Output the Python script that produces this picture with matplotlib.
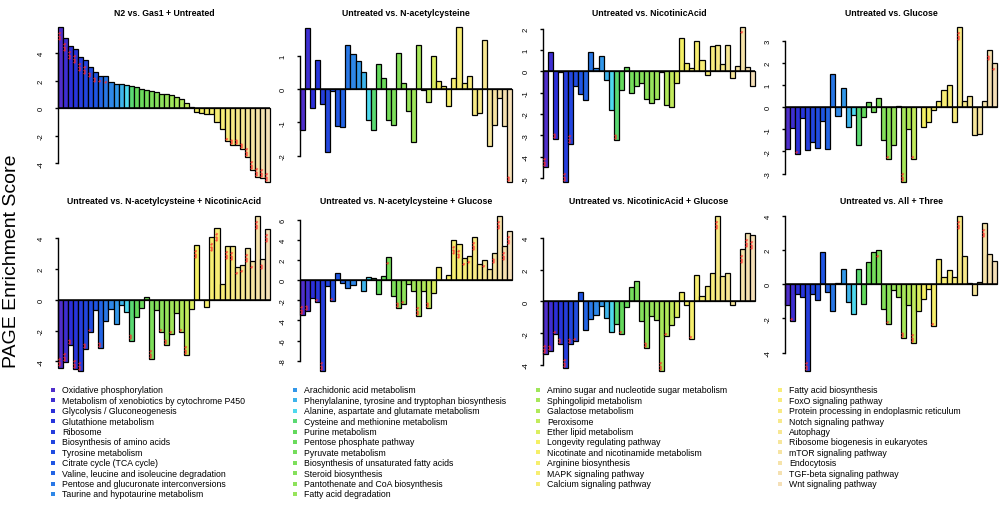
"""PAGE enrichment scores for 42 KEGG pathways across eight comparisons."""

import matplotlib
matplotlib.use("Agg")
import matplotlib.pyplot as plt
import numpy as np
from matplotlib.colors import LinearSegmentedColormap

plt.rcParams["font.family"] = ["Liberation Sans", "DejaVu Sans"]
plt.rcParams["axes.unicode_minus"] = False

# pathway order is the ranking of the first comparison (N2 vs. Gas1)
PATHWAYS = [
    "Oxidative phosphorylation",
    "Metabolism of xenobiotics by cytochrome P450",
    "Glycolysis / Gluconeogenesis",
    "Glutathione metabolism",
    "Ribosome",
    "Biosynthesis of amino acids",
    "Tyrosine metabolism",
    "Citrate cycle (TCA cycle)",
    "Valine, leucine and isoleucine degradation",
    "Pentose and glucuronate interconversions",
    "Taurine and hypotaurine metabolism",
    "Arachidonic acid metabolism",
    "Phenylalanine, tyrosine and tryptophan biosynthesis",
    "Alanine, aspartate and glutamate metabolism",
    "Cysteine and methionine metabolism",
    "Purine metabolism",
    "Pentose phosphate pathway",
    "Pyruvate metabolism",
    "Biosynthesis of unsaturated fatty acids",
    "Steroid biosynthesis",
    "Pantothenate and CoA biosynthesis",
    "Fatty acid degradation",
    "Amino sugar and nucleotide sugar metabolism",
    "Sphingolipid metabolism",
    "Galactose metabolism",
    "Peroxisome",
    "Ether lipid metabolism",
    "Longevity regulating pathway",
    "Nicotinate and nicotinamide metabolism",
    "Arginine biosynthesis",
    "MAPK signaling pathway",
    "Calcium signaling pathway",
    "Fatty acid biosynthesis",
    "FoxO signaling pathway",
    "Protein processing in endoplasmic reticulum",
    "Notch signaling pathway",
    "Autophagy",
    "Ribosome biogenesis in eukaryotes",
    "mTOR signaling pathway",
    "Endocytosis",
    "TGF-beta signaling pathway",
    "Wnt signaling pathway",
]

TITLES = [
    "N2 vs. Gas1 + Untreated",
    "Untreated vs. N-acetylcysteine",
    "Untreated vs. NicotinicAcid",
    "Untreated vs. Glucose",
    "Untreated vs. N-acetylcysteine + NicotinicAcid",
    "Untreated vs. N-acetylcysteine + Glucose",
    "Untreated vs. NicotinicAcid + Glucose",
    "Untreated vs. All + Three",
]

n2_gas1 = [5.93, 5.13, 4.55, 4.27, 3.69, 3.5, 3.0, 2.6, 2.36, 2.31,
           1.9, 1.78, 1.76, 1.71, 1.59, 1.57, 1.4, 1.35, 1.23, 1.16,
           1.04, 1.01, 0.94, 0.84, 0.67, 0.39, 0.05, -0.26, -0.34, -0.39,
           -0.46, -1.0, -1.5, -2.36, -2.7, -2.7, -3.0, -3.57, -4.48, -5.0,
           -5.08, -5.4]
nac = [-1.22, 1.83, -0.57, 0.88, -0.45, -1.9, -0.05, -1.1, -1.13, 1.32,
       1.07, 0.85, 0.52, -0.93, -1.23, 0.77, 0.33, -0.93, -1.07, 1.1,
       0.2, -0.65, -1.6, 1.34, -0.03, -0.38, 1.0, 0.25, 0.1, -0.5,
       0.35, 1.88, 0.2, 0.4, -0.78, -0.73, 1.47, -1.7, -1.08, -0.25,
       -1.1, -2.8]
na = [-4.5, 0.93, -3.15, -0.05, -5.2, -3.4, -0.7, -1.05, -1.35, 0.93,
      0.15, 0.7, -0.4, -1.8, -3.2, -0.85, 0.22, -1.0, -0.7, -0.55,
      -1.3, -1.5, -1.3, -0.05, -1.55, -1.65, -0.55, 1.55, 0.4, 0.15,
      1.42, 0.55, -0.15, 1.18, 1.22, 0.35, 1.22, -0.3, 0.25, 2.1,
      0.2, -0.7]
glc = [-1.9, -0.95, -2.1, -0.5, -1.95, -1.55, -1.85, -0.6, -1.9, 1.5,
       -0.4, 0.85, -0.88, -0.35, -1.7, -0.45, 0.22, -0.2, 0.42, -1.5,
       -2.35, -1.7, 0.06, -3.4, -1.0, -2.35, 0.0, -0.9, -0.65, -0.12,
       0.28, 0.78, 1.02, -0.65, 3.65, 0.3, 0.52, -1.27, -1.2, 0.3,
       2.6, 2.0]
nac_na = [-4.4, -4.05, -2.95, -4.5, -4.65, -3.2, -2.1, -0.65, -3.15, -1.35,
          -0.6, -1.6, -0.35, -0.8, -2.65, -1.15, -0.55, 0.2, -3.85, -0.7,
          -2.1, -2.95, -2.2, -0.85, -2.1, -3.6, -0.6, 3.55, 0.0, -0.45,
          4.05, 4.65, 1.0, 3.5, 3.45, 2.1, 2.25, 3.35, 2.5, 5.45,
          2.65, 4.6]
nac_glc = [-3.5, -3.1, -1.8, -2.15, -9.05, -0.6, -2.1, 0.75, -0.3, -0.8,
           -0.5, 0.0, -1.05, 0.35, 0.2, -1.35, 0.4, 2.25, -1.55, -2.8,
           -2.4, -0.35, -1.1, -3.6, -1.1, -2.8, -1.25, 1.35, 0.0, 0.55,
           3.95, 3.55, 2.15, 2.35, 4.3, 1.55, 2.0, 1.1, 2.7, 6.4,
           3.35, 4.9]
na_glc = [-3.3, -3.1, -2.05, -2.65, -4.2, -2.65, -2.5, 0.6, -1.8, -1.1,
          -0.85, -0.3, -1.05, -1.95, -1.4, -2.05, -0.35, 0.9, 1.3, -1.25,
          -2.95, -0.9, -1.15, -4.4, -2.2, -1.45, -0.95, 0.6, -0.25, -2.35,
          1.65, 0.35, 1.0, 1.8, 5.4, 1.6, 1.8, -0.2, 0.05, 3.3,
          4.3, 4.15]
all_three = [-1.2, -2.15, -0.6, -0.75, -5.1, -0.55, -0.95, 1.9, -0.45, -1.6,
             0.08, 0.88, -1.05, -1.75, 0.88, -1.15, 1.3, 1.9, 1.98, -1.45,
             -2.35, -0.35, -0.75, -3.15, -1.2, -3.45, -1.6, -0.9, -0.3, -2.45,
             1.45, 0.4, 0.8, 0.4, 4.0, 1.65, 0.05, -0.65, 0.15, 3.55,
             1.75, 1.35]

SCORES = [n2_gas1, nac, na, glc, nac_na, nac_glc, na_glc, all_three]

YTICKS = [
    [-4, -2, 0, 2, 4],
    [-2, -1, 0, 1],
    [-5, -4, -3, -2, -1, 0, 1, 2],
    [-3, -2, -1, 0, 1, 2, 3],
    [-4, -2, 0, 2, 4],
    [-8, -6, -4, -2, 0, 2, 4, 6],
    [-4, -2, 0, 2, 4],
    [-4, -2, 0, 2, 4],
]

# z-score cut-offs for *, **, ***
SIG_LEVELS = [1.96, 2.58, 3.29]

ramp = LinearSegmentedColormap.from_list("page", [
    (0.00, "#4f2fcb"), (0.05, "#2a30da"), (0.17, "#1f55e3"),
    (0.27, "#3399e9"), (0.32, "#4fdcee"), (0.345, "#5cd85c"),
    (0.60, "#b5ea5a"), (0.66, "#f5f064"), (0.80, "#f8ec7c"),
    (1.00, "#f5e0b8"),
])
colors = ramp(np.linspace(0, 1, len(PATHWAYS)))

W, H = 1000, 506
fig = plt.figure(figsize=(W / 100, H / 100), dpi=100)

lefts = [58, 300, 543, 785]
tops = [26, 215]
pw, ph = 212, 159

for k, (title, vals, ticks) in enumerate(zip(TITLES, SCORES, YTICKS)):
    r, c = divmod(k, 4)
    ax = fig.add_axes([lefts[c] / W, 1 - (tops[r] + ph) / H, pw / W, ph / H])
    ax.patch.set_visible(False)
    x = np.arange(len(vals)) + 0.5
    ax.bar(x, vals, width=1.0, color=colors, edgecolor="black",
           linewidth=0.9, clip_on=False, zorder=2)
    ax.axhline(0, color="black", lw=1.1, zorder=3)

    lo, hi = min(vals), max(vals)
    pad = 0.01 * (hi - lo)
    ax.set_ylim(lo - pad, hi + pad)
    ax.set_xlim(0, len(vals))

    # significance stars just inside the bar tips
    for xi, v in zip(x, vals):
        n = sum(abs(v) > t for t in SIG_LEVELS)
        if n:
            ax.annotate("*" * n, (xi, v), xytext=(1.2, -1.5 if v > 0 else 1.5),
                        textcoords="offset points", rotation=90, color="#ff2a2a",
                        fontsize=6.5, ha="center",
                        va="top" if v > 0 else "bottom", zorder=4)

    for side in ("top", "right", "bottom"):
        ax.spines[side].set_visible(False)
    ax.spines["left"].set_linewidth(1.0)
    ax.spines["left"].set_bounds(ticks[0], ticks[-1])
    ax.set_xticks([])
    ax.set_yticks(ticks)
    ax.set_yticklabels([str(t) for t in ticks])
    ax.tick_params(axis="y", length=2.5, width=1.0, pad=7, labelsize=5.5)
    for lab in ax.get_yticklabels():
        lab.set_rotation(90)
        lab.set_va("center")

    fig.text((lefts[c] + pw / 2) / W, 1 - (tops[r] - 13) / H, title,
             fontsize=6.3, fontweight="bold", ha="center", va="center")

fig.text(12 / W, 1 - 261 / H, "PAGE Enrichment Score", rotation=90,
         fontsize=14, ha="center", va="center")

# legend: four columns under the panels
leg = fig.add_axes([0, 0, 1, 1])
leg.set_xlim(0, W)
leg.set_ylim(H, 0)
leg.axis("off")
leg.patch.set_visible(False)
col_start = [0, 11, 22, 32]
sq_x = [53, 295, 538, 780]
for i, name in enumerate(PATHWAYS):
    c = sum(i >= s for s in col_start) - 1
    row = i - col_start[c]
    y = 391 + 10.4 * row
    leg.scatter([sq_x[c]], [y], marker="s", s=10, color=colors[i], linewidths=0)
    leg.text(sq_x[c] + 9, y, name, fontsize=6.3, ha="left", va="center")

fig.savefig("out.png", dpi=100)
plt.close(fig)
